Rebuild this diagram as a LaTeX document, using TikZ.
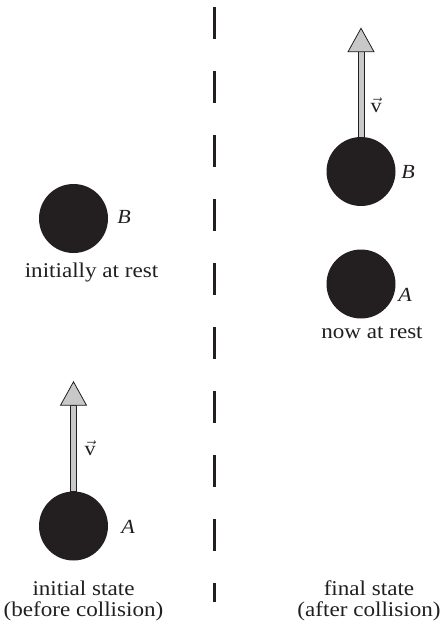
\documentclass[tikz,border=0pt]{standalone}
\usepackage{fontspec}
\setmainfont{Liberation Serif}[FakeStretch=1.1]
\usetikzlibrary{calc}
\definecolor{ink}{HTML}{231F20}
\definecolor{shaftgray}{HTML}{C8C8C8}
\tikzset{
  ball/.style={circle, fill=ink, draw=none, minimum size=69pt, inner sep=0pt},
  lbl/.style={font=\fontsize{20}{21}\selectfont, inner sep=0pt, text=ink},
  txt/.style={font=\fontsize{21}{21.5}\selectfont, inner sep=0pt, align=center, text=ink},
  shaft/.style={draw=ink, line width=0.8pt, fill=shaftgray},
  divider/.style={draw=ink, line width=3pt, dash pattern=on 32pt off 32pt}
}
\begin{document}
\begin{tikzpicture}[x=1pt, y=-1pt]
\useasboundingbox (0,0) rectangle (444,627);
% divider
\coordinate (dTop) at (214,7);
\coordinate (dBot) at (214,602);
\draw[divider] (dTop) -- (dBot);
% balls
\node[ball] (iA) at (73.5,526) {};
\node[ball] (iB) at (73.5,218.5) {};
\node[ball] (fB) at (361,171.5) {};
\node[ball] (fA) at (361,284) {};
% velocity arrows
\coordinate (hiA) at ($(iA.north)+(0,-86)$);
\coordinate (hfB) at ($(fB.north)+(0,-85)$);
\foreach \b/\h in {iA/hiA, fB/hfB}{
  \path[shaft] ($(\b.north)+(-3,0.5)$) rectangle ($(\h)+(3,0)$);
  \path[shaft, line join=miter] ($(\h)+(-13,0)$) -- ($(\h)+(0,-23.5)$) -- ($(\h)+(13,0)$) -- cycle;
}
% labels
\node[lbl] (lA1) at (128,527) {\itshape A};
\node[lbl] (v1) at (90,448) {$\vec{\textrm{v}}$};
\node[lbl] (lB1) at (124,217) {\itshape B};
\node[txt] (rest1) at (91.5,272) {initially at rest};
\node[lbl] (lB2) at (408,172) {\itshape B};
\node[lbl] (v2) at (376,105) {$\vec{\textrm{v}}$};
\node[lbl] (lA2) at (405,295) {\itshape A};
\node[txt] (rest2) at (372,333) {now at rest};
\node[txt] (cap1) at (83.5,601) {initial state\\(before collision)};
\node[txt] (cap2) at (369,601) {final state\\(after collision)};
\end{tikzpicture}
\end{document}
